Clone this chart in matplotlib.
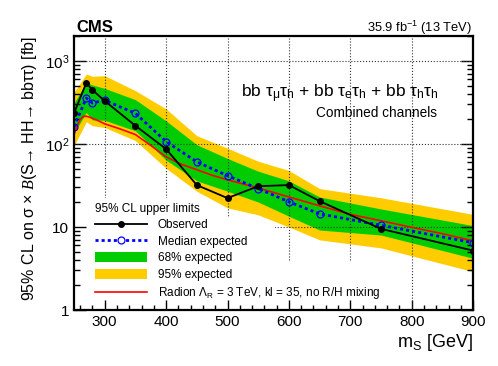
import numpy as np
import matplotlib
matplotlib.use("Agg")
import matplotlib.pyplot as plt
from matplotlib.lines import Line2D
from matplotlib.patches import Patch, PathPatch
from matplotlib.path import Path
from matplotlib.ticker import FixedLocator, MultipleLocator, FuncFormatter, LogLocator, NullFormatter

plt.rcParams['font.family'] = ['Liberation Sans', 'DejaVu Sans']
plt.rcParams['mathtext.fontset'] = 'custom'
plt.rcParams['mathtext.rm'] = 'Liberation Sans'
plt.rcParams['mathtext.it'] = 'Liberation Sans'
plt.rcParams['mathtext.bf'] = 'Liberation Sans:bold'
plt.rcParams['mathtext.cal'] = 'Liberation Serif:italic'

# limits (fb) vs scalar mass
mass = [250, 270, 280, 300, 350, 400, 450, 500, 550, 600, 650, 750, 900]
observed = [235, 544, 448, 330, 166, 87, 32, 22.3, 31, 32, 20.5, 9.5, 5.2]
expected = [161, 358, 312, 336, 234, 107, 61, 41.5, 29, 20.1, 14.4, 10.5, 6.45]
exp_p1 = [310, 553, 514, 468, 342, 190, 98, 67, 47, 36, 23, 16.5, 10.4]
exp_m1 = [135, 240, 195, 193, 144, 64, 36, 27, 20, 13.5, 9.2, 8.0, 4.2]
exp_p2 = [420, 697, 654, 666, 439, 265, 126, 89, 62, 48, 29, 22.5, 14.2]
exp_m2 = [95, 185, 166, 158, 110, 51, 27, 17, 14, 10, 7.0, 5.6, 2.9]

# radion theory curve
radion_mass = [250, 255, 260, 265, 270, 275, 280, 290, 300, 325, 350, 375, 400, 425,
               450, 475, 500, 550, 600, 650, 700, 750, 800, 850, 900]
radion_xs = [130, 165, 198, 214, 216, 211, 204, 190, 175, 152, 130, 96, 70, 57,
             49, 42, 37, 29.5, 23, 18, 14.2, 11.9, 9.9, 8.3, 6.8]

x_major = [300, 400, 500, 600, 700, 800, 900]
y_major = [1, 10, 100, 1000]

green = '#00cc00'
yellow = '#ffcc00'

fig = plt.figure(figsize=(4.98, 3.66), dpi=100)
ax = fig.add_axes([0.1486, 0.153, 0.8014, 0.7486])

ax.fill_between(mass, exp_m2, exp_p2, color=yellow, lw=0, zorder=1)
ax.fill_between(mass, exp_m1, exp_p1, color=green, lw=0, zorder=1.1)
ax.plot(radion_mass, radion_xs, color='#ff0000', lw=1.2, zorder=3)
ax.plot(mass, expected, color='#0000ff', lw=2, linestyle=(0, (1.1, 1.1)),
        marker='o', ms=5, mfc='none', mec='#0000ff', mew=0.9, zorder=3.1)
ax.plot(mass, observed, color='k', lw=1.3, marker='o', ms=4, zorder=3.2)

ax.set_yscale('log')
ax.set_xlim(250, 900)
ax.set_ylim(1, 2000)

ax.xaxis.set_major_locator(FixedLocator(x_major))
ax.xaxis.set_minor_locator(MultipleLocator(20))
ax.yaxis.set_major_locator(FixedLocator(y_major))
ax.yaxis.set_minor_locator(LogLocator(base=10, subs=np.arange(2, 10)))
ax.yaxis.set_minor_formatter(NullFormatter())

def ylab(v, pos):
    if v < 50:
        return '%d' % v
    return r'$10^{%d}$' % round(np.log10(v))
ax.yaxis.set_major_formatter(FuncFormatter(ylab))

ax.tick_params(which='both', direction='in', top=False, right=True, labelsize=11)
ax.tick_params(which='major', length=8.5, width=1)
ax.tick_params(which='minor', length=4.5, width=1)
ax.tick_params(axis='x', which='major', length=7)
ax.tick_params(axis='x', which='minor', length=3.5)
for s in ax.spines.values():
    s.set_linewidth(1.6)
    s.set_zorder(6)

# dotted grid on top of the bands, but hidden behind the legend area
outer = [(-0.1, -0.1), (1.1, -0.1), (1.1, 1.1), (-0.1, 1.1), (-0.1, -0.1)]
hole = [(0, 0.409), (0.328, 0.409), (0.328, 0.336), (0.504, 0.336), (0.504, 0.175),
        (0.729, 0.175), (0.729, 0), (0, 0), (0, 0.409)]
codes = ([Path.MOVETO] + [Path.LINETO] * (len(outer) - 2) + [Path.CLOSEPOLY] +
         [Path.MOVETO] + [Path.LINETO] * (len(hole) - 2) + [Path.CLOSEPOLY])
clip = PathPatch(Path(outer + hole, codes), transform=ax.transAxes,
                 facecolor='none', edgecolor='none')
grid_lines = []
for v in x_major[:-1]:
    grid_lines.append(ax.axvline(v, color='#333333', lw=0.8, ls=':', zorder=2.5))
for v in y_major[1:]:
    grid_lines.append(ax.axhline(v, color='#333333', lw=0.8, ls=':', zorder=2.5))
for g in grid_lines:
    g.set_clip_path(clip)

ax.set_xlabel(r'm$_{\mathrm{S}}$ [GeV]', fontsize=13, loc='right', labelpad=2)
ax.set_ylabel(r'95% CL on σ × $\mathcal{B}$(S→ HH→ bbττ) [fb]', fontsize=11.5,
              loc='top', labelpad=4)

fig.text(0.153, 0.913, 'CMS', fontsize=12, fontweight='bold', ha='left', va='baseline')
fig.text(0.948, 0.913, r'35.9 fb$^{-1}$ (13 TeV)', fontsize=9.3, ha='right', va='baseline')
ax.text(0.913, 0.778, r'bb $\tau_{\mu}\tau_{h}$ + bb $\tau_{e}\tau_{h}$ + bb $\tau_{h}\tau_{h}$',
        transform=ax.transAxes, fontsize=12.5, ha='right', va='baseline')
ax.text(0.91, 0.706, 'Combined channels', transform=ax.transAxes, fontsize=9.8,
        ha='right', va='baseline')

handles = [
    Line2D([], [], color='k', lw=1.3, marker='o', ms=4),
    Line2D([], [], color='#0000ff', lw=2, linestyle=(0, (1.1, 1.1)), marker='o', ms=5,
           mfc='white', mec='#0000ff', mew=0.9),
    Patch(facecolor=green, edgecolor='none'),
    Patch(facecolor=yellow, edgecolor='none'),
    Line2D([], [], color='#ff0000', lw=1.2),
]
labels = ['Observed', 'Median expected', '68% expected', '95% expected',
          r'Radion $\Lambda_{\mathrm{R}}$ = 3 TeV, kl = 35, no R/H mixing']
leg = ax.legend(handles, labels, title='95% CL upper limits', loc='upper left',
                bbox_to_anchor=(0.04, 0.409), fontsize=8.5, title_fontsize=8.5,
                alignment='left', frameon=False, handlelength=4.4,
                handleheight=0.93, handletextpad=0.95, labelspacing=0.38,
                borderpad=0.4, borderaxespad=0)
leg.set_zorder(5)

fig.savefig('out.png', dpi=100)
